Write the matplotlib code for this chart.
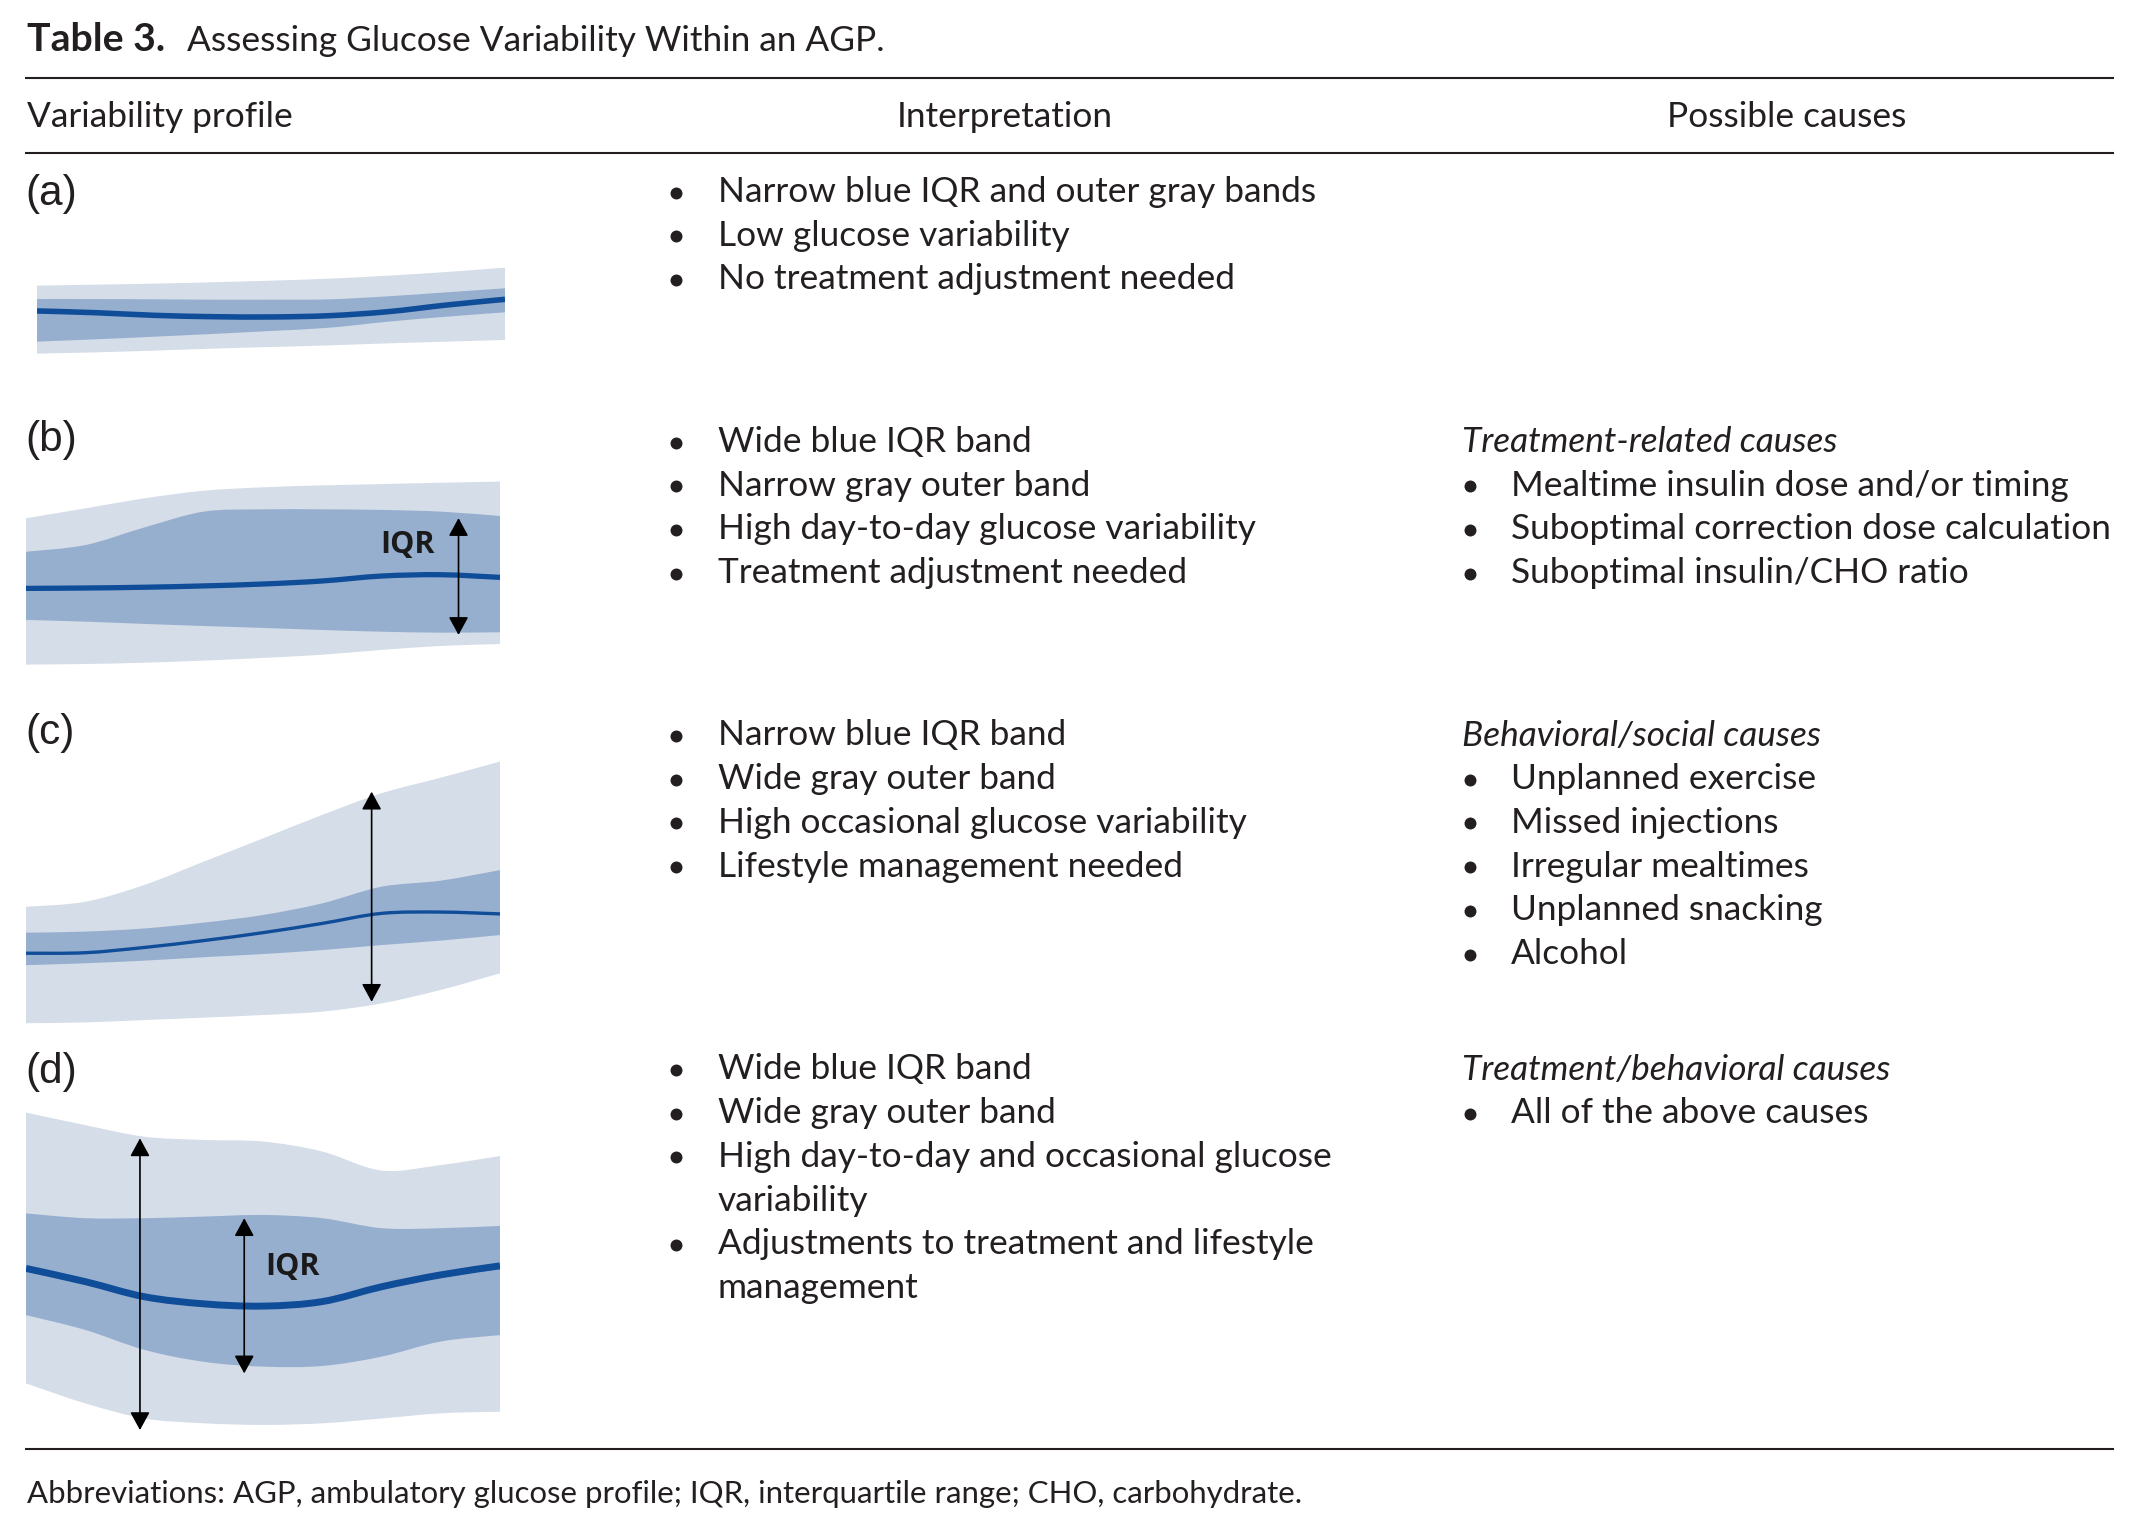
import matplotlib
matplotlib.use("Agg")
import matplotlib.pyplot as plt
from matplotlib.path import Path
from matplotlib.patches import PathPatch

W, H, DPI = 2139, 1536, 100

# ---------------- data ----------------
hours = [0, 3, 6, 9, 12, 15, 18, 21, 24]

# relative glucose level (0-100 within each profile box)
a_outer_hi = [77.3, 78.4, 79.5, 81.0, 82.8, 85.0, 88.3, 92.3, 97.1]
a_iqr_hi = [62.6, 62.6, 62.3, 61.9, 61.9, 62.3, 65.6, 70.0, 74.4]
a_median = [49.5, 47.6, 44.7, 43.2, 42.9, 44.3, 48.7, 56.0, 62.3]
a_iqr_lo = [15.8, 18.3, 21.2, 24.2, 27.5, 31.1, 37.7, 43.2, 48.0]
a_outer_lo = [2.6, 4.0, 5.9, 8.1, 9.9, 11.7, 13.9, 15.8, 17.6]

b_outer_hi = [78.8, 84.0, 89.3, 93.3, 95.1, 96.1, 96.8, 97.5, 98.1]
b_iqr_hi = [61.2, 64.7, 74.0, 82.3, 83.5, 83.5, 83.2, 82.3, 80.0]
b_median = [41.9, 42.1, 42.5, 43.2, 44.2, 45.8, 48.4, 49.1, 47.7]
b_iqr_lo = [25.3, 24.4, 23.2, 22.1, 21.1, 20.0, 19.1, 18.6, 18.8]
b_outer_lo = [1.8, 2.1, 2.8, 3.9, 5.3, 7.0, 9.5, 11.6, 12.6]

c_outer_hi = [44.4, 46.3, 52.7, 61.5, 70.3, 79.2, 87.4, 93.3, 99.4]
c_iqr_hi = [34.6, 35.0, 36.2, 38.4, 41.3, 45.7, 52.0, 54.3, 58.3]
c_median = [26.8, 27.0, 29.0, 31.6, 34.6, 38.1, 41.9, 42.4, 41.7]
c_iqr_lo = [22.3, 23.0, 24.0, 25.3, 26.5, 28.0, 29.9, 31.6, 33.7]
c_outer_lo = [0.3, 0.6, 1.5, 2.4, 3.4, 4.7, 7.8, 12.9, 19.2]

d_outer_hi = [99.2, 95.3, 91.7, 90.7, 90.2, 87.1, 81.2, 82.9, 85.7]
d_iqr_hi = [67.9, 66.4, 66.4, 66.9, 67.4, 66.4, 63.3, 63.3, 64.0]
d_median = [50.8, 46.7, 42.0, 39.8, 39.1, 40.5, 45.1, 48.8, 51.6]
d_iqr_lo = [36.3, 31.7, 25.5, 21.8, 20.3, 20.5, 23.4, 28.1, 30.1]
d_outer_lo = [15.1, 8.9, 4.2, 2.7, 2.2, 2.7, 4.2, 5.8, 6.3]

# double arrows: (hour, top, bottom)
b_arrows = [(21.9, 78.9, 17.4)]
c_arrows = [(17.5, 88.0, 8.4)]
d_arrows = [(5.77, 91.2, 0.6), (11.05, 66.4, 18.2)]
# "IQR" labels: (hour, level)
b_iqr_label = [(19.3, 64.7)]
d_iqr_label = [(13.5, 51.3)]

# ---------------- text ----------------
title_bold = "Table 3."
title_rest = "Assessing Glucose Variability Within an AGP."
col_headers = ["Variability profile", "Interpretation", "Possible causes"]
row_labels = ["(a)", "(b)", "(c)", "(d)"]
interpretation = [
    ["Narrow blue IQR and outer gray bands", "Low glucose variability",
     "No treatment adjustment needed"],
    ["Wide blue IQR band", "Narrow gray outer band",
     "High day-to-day glucose variability", "Treatment adjustment needed"],
    ["Narrow blue IQR band", "Wide gray outer band",
     "High occasional glucose variability", "Lifestyle management needed"],
    ["Wide blue IQR band", "Wide gray outer band",
     "High day-to-day and occasional glucose\nvariability",
     "Adjustments to treatment and lifestyle\nmanagement"],
]
cause_titles = [None, "Treatment-related causes", "Behavioral/social causes",
                "Treatment/behavioral causes"]
causes = [
    [],
    ["Mealtime insulin dose and/or timing", "Suboptimal correction dose calculation",
     "Suboptimal insulin/CHO ratio"],
    ["Unplanned exercise", "Missed injections", "Irregular mealtimes",
     "Unplanned snacking", "Alcohol"],
    ["All of the above causes"],
]
footnote = ("Abbreviations: AGP, ambulatory glucose profile; IQR, interquartile range; "
            "CHO, carbohydrate.")

# ---------------- style / layout ----------------
INK = "#231f20"
C_OUTER = "#d5dde8"
C_IQR = "#97afcf"
C_MED = "#0f4d99"
FONT = ["Lato", "DejaVu Sans"]
LABEL_FONT = ["Liberation Sans", "DejaVu Sans"]

row_base = [202, 452, 745.5, 1079.5]
label_base = [205, 451, 744, 1083.5]
pitch = 43.7
x_bul_mid, x_txt_mid = 676, 718
x_cause_title, x_bul_right, x_txt_right = 1462, 1470, 1511
rule_x0, rule_x1 = 25, 2114

panel_boxes = [(37, 265, 505, 356), (26, 478, 500, 668),
               (26, 760, 500, 1024), (26, 1110, 500, 1432)]
median_lw = [4.0, 3.8, 2.4, 5.0]

fig = plt.figure(figsize=(W / DPI, H / DPI), dpi=DPI)
fig.patch.set_facecolor("white")
page = fig.add_axes([0, 0, 1, 1])
page.set_xlim(0, W)
page.set_ylim(H, 0)
page.axis("off")

renderer = fig.canvas.get_renderer()


def fit_size(text, width, **kw):
    probe = page.text(0, 0, text, fontsize=20, family=FONT, **kw)
    w = probe.get_window_extent(renderer).width
    probe.remove()
    return 20 * width / w


fs = fit_size(interpretation[0][0], 599)
fs_foot = fit_size(footnote, 1276)
fs_title_bold = min(fit_size(title_bold, 138, weight="bold"), fs * 1.12)

# title
page.text(27, 51, title_bold, fontsize=fs_title_bold, family=FONT, weight="bold",
          color=INK, va="baseline")
page.text(187, 51, title_rest, fontsize=fs, family=FONT, color=INK, va="baseline")

# rules
for yy in (77.5, 153.3, 1449):
    page.plot([rule_x0, rule_x1], [yy, yy], color=INK, lw=1.5, solid_capstyle="butt")

# headers
page.text(27, 127, col_headers[0], fontsize=fs, family=FONT, color=INK, va="baseline")
page.text(1005, 127, col_headers[1], fontsize=fs, family=FONT, color=INK,
          va="baseline", ha="center")
page.text(1787, 127, col_headers[2], fontsize=fs, family=FONT, color=INK,
          va="baseline", ha="center")


def bullet_list(x_bullet, x_text, y0, items):
    y = y0
    for item in items:
        page.plot([x_bullet], [y - 9.5], "o", ms=8.6, color=INK, mec="none")
        for ln in item.split("\n"):
            page.text(x_text, y, ln, fontsize=fs, family=FONT, color=INK, va="baseline")
            y += pitch
    return y


for i in range(4):
    page.text(25, label_base[i], row_labels[i], fontsize=fs * 1.2, family=LABEL_FONT,
              color=INK, va="baseline")
    bullet_list(x_bul_mid, x_txt_mid, row_base[i], interpretation[i])
    if cause_titles[i]:
        page.text(x_cause_title, row_base[i], cause_titles[i], fontsize=fs, family=FONT,
                  style="italic", color=INK, va="baseline")
        bullet_list(x_bul_right, x_txt_right, row_base[i] + pitch, causes[i])

page.text(27, 1503, footnote, fontsize=fs_foot, family=FONT, color=INK, va="baseline")


# ---------------- profile panels ----------------
def smooth_path(xs, ys):
    """Cubic Bezier segments through the given points (Catmull-Rom tangents)."""
    pts = list(zip(xs, ys))
    n = len(pts)
    verts = [pts[0]]
    codes = [Path.MOVETO]
    for i in range(n - 1):
        p0 = pts[i - 1] if i > 0 else pts[i]
        p1, p2 = pts[i], pts[i + 1]
        p3 = pts[i + 2] if i + 2 < n else pts[i + 1]
        c1 = (p1[0] + (p2[0] - p0[0]) / 6, p1[1] + (p2[1] - p0[1]) / 6)
        c2 = (p2[0] - (p3[0] - p1[0]) / 6, p2[1] - (p3[1] - p1[1]) / 6)
        verts += [c1, c2, p2]
        codes += [Path.CURVE4] * 3
    return verts, codes


def band(ax, xs, lo, hi, color):
    v1, c1 = smooth_path(xs, hi)
    v2, c2 = smooth_path(xs[::-1], lo[::-1])
    c2[0] = Path.LINETO
    verts = v1 + v2 + [v1[0]]
    codes = c1 + c2 + [Path.CLOSEPOLY]
    ax.add_patch(PathPatch(Path(verts, codes), facecolor=color, edgecolor="none"))


profiles = [
    (a_outer_hi, a_iqr_hi, a_median, a_iqr_lo, a_outer_lo, [], []),
    (b_outer_hi, b_iqr_hi, b_median, b_iqr_lo, b_outer_lo, b_arrows, b_iqr_label),
    (c_outer_hi, c_iqr_hi, c_median, c_iqr_lo, c_outer_lo, c_arrows, []),
    (d_outer_hi, d_iqr_hi, d_median, d_iqr_lo, d_outer_lo, d_arrows, d_iqr_label),
]

for k, (ohi, ihi, med, ilo, olo, arrows, iqr_lab) in enumerate(profiles):
    x0, y0, x1, y1 = panel_boxes[k]
    ax = fig.add_axes([x0 / W, 1 - y1 / H, (x1 - x0) / W, (y1 - y0) / H])
    ax.set_xlim(0, 24)
    ax.set_ylim(0, 100)
    ax.axis("off")
    band(ax, hours, olo, ohi, C_OUTER)
    band(ax, hours, ilo, ihi, C_IQR)
    mv, mc = smooth_path(hours, med)
    ax.add_patch(PathPatch(Path(mv, mc), facecolor="none", edgecolor=C_MED,
                           lw=median_lw[k], capstyle="butt"))
    for (hx, top, bot) in arrows:
        ax.annotate("", xy=(hx, top), xytext=(hx, bot),
                    arrowprops=dict(arrowstyle="<|-|>,head_length=0.55,head_width=0.3",
                                    mutation_scale=20, color="black", lw=1.2,
                                    shrinkA=0, shrinkB=0),
                    annotation_clip=False)
    for (hx, lvl) in iqr_lab:
        ax.text(hx, lvl, "IQR", fontsize=22, family=["Open Sans", "DejaVu Sans"],
                weight="bold", color="#1a1a1a", ha="center", va="center")

fig.savefig("out.png", dpi=DPI, facecolor="white")
